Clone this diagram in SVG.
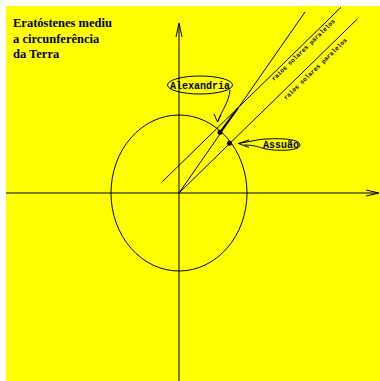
<svg xmlns="http://www.w3.org/2000/svg" width="380" height="381" viewBox="0 0 380 381">
<style>
.ln{stroke:#000;stroke-width:1;fill:none}
.title{font-family:"Liberation Serif",serif;font-weight:bold;font-size:12.5px;fill:#000}
.lbl{font-family:"Liberation Mono",monospace;font-weight:bold;font-size:10px;fill:#000}
.ray{font-family:"Liberation Mono",monospace;font-weight:bold;font-size:6.2px;fill:#000}
</style>
<rect x="0" y="0" width="380" height="381" fill="#fff"/>
<rect x="6" y="6" width="374" height="375" fill="#ffff00"/>
<g id="connectors">
<line class="ln" x1="6" y1="193" x2="378" y2="193"/>
<path class="ln" d="M366,190 L379,193 L366,196"/>
<line class="ln" x1="179" y1="381" x2="179" y2="24"/>
<path class="ln" d="M176,37 L179,23 L182,37"/>
<line class="ln" x1="179" y1="193" x2="305" y2="12"/>
<line class="ln" x1="162.3" y1="181.7" x2="341" y2="7.3"/>
<line class="ln" x1="179" y1="193" x2="357.3" y2="19"/>
<line x1="220" y1="132.3" x2="238" y2="108" stroke="#000" stroke-width="2"/>
<path class="ln" d="M230,90 C229,102 222,110 217.5,122"/>
<path class="ln" d="M214,114 L217.5,122 L221,115"/>
<path class="ln" d="M238.5,143.5 L260,139.5"/>
<path class="ln" d="M249,140 L238.5,143.5 L249,147.5"/>
</g>
<g id="earth"><ellipse class="ln" cx="179" cy="193" rx="68" ry="78"/></g>
<g id="alexandria-dot"><circle cx="220" cy="132.3" r="2.5" fill="#000"/></g>
<g id="assuao-dot"><circle cx="229.5" cy="143.3" r="2.5" fill="#000"/></g>
<g id="title">
<text class="title" x="13" y="27">Eratóstenes mediu</text>
<text class="title" x="13" y="42.5">a circunferência</text>
<text class="title" x="13" y="58">da Terra</text>
</g>
<g id="alexandria">
<ellipse class="ln" cx="200" cy="85" rx="32.5" ry="9"/>
<text class="lbl" x="170" y="88.5">Alexandria</text>
</g>
<g id="assuao">
<path class="ln" d="M260,139.5 C275,138 300,138 300,145 C300,152 270,151 262,148 C258,146.5 252,145 244,145"/>
<text class="lbl" x="263" y="148">Assuão</text>
</g>
<g id="ray-labels">
<text class="ray" transform="translate(274,81) rotate(-44)">raios solares paralelos</text>
<text class="ray" transform="translate(286,100) rotate(-44)">raios solares paralelos</text>
</g>
</svg>
